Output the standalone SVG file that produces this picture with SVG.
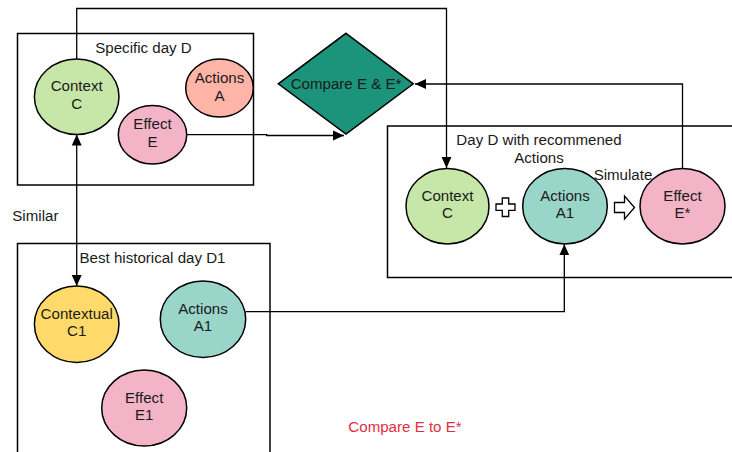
<svg xmlns="http://www.w3.org/2000/svg" width="732" height="452" viewBox="0 0 732 452">
<defs>
<style>
text{font-family:"Liberation Sans",Arial,sans-serif;font-size:15.1px;fill:#1a1a1a}
.c{text-anchor:middle}
.box{fill:none;stroke:#000;stroke-width:1.5}
.n{stroke:#000;stroke-width:1.5}
.ln{fill:none;stroke:#000;stroke-width:1.3}
.green{fill:#c6e7a8}.salmon{fill:#ffb4a8}.pink{fill:#f3b4c8}.teal{fill:#99d5c9}.yellow{fill:#ffda6a}
</style>
<marker id="ar" viewBox="0 0 10 10" refX="10" refY="5" markerWidth="11" markerHeight="11" markerUnits="userSpaceOnUse" orient="auto-start-reverse">
<path d="M0,0.5 L10,5 L0,9.5 Z" fill="#000"/>
</marker>
</defs>
<rect width="732" height="452" fill="#fff"/>

<g id="box-specific-day">
<rect class="box" x="17.5" y="33.5" width="236" height="151.5"/>
<text class="c" x="143.5" y="53">Specific day D</text>
</g>
<g id="box-day-d">
<rect class="box" x="387.5" y="126" width="360" height="151.5"/>
<text class="c" x="539" y="145">Day D with recommened</text>
<text class="c" x="539" y="162.5">Actions</text>
</g>
<g id="box-historical">
<rect class="box" x="17.5" y="243.5" width="252.5" height="220"/>
<text class="c" x="152.5" y="263">Best historical day D1</text>
</g>

<g id="connectors">
<path class="ln" d="M76.7,59 V8.5 H446.5 V168" marker-end="url(#ar)"/>
<path class="ln" d="M186.7,134.7 H266.7 V135.5 H344" marker-end="url(#ar)"/>
<path class="ln" d="M682.5,168.3 V84 H415" marker-end="url(#ar)"/>
<path class="ln" d="M76.7,134.5 V286" marker-start="url(#ar)" marker-end="url(#ar)"/>
<path class="ln" d="M245.7,311.7 H564.3 V244.2" marker-end="url(#ar)"/>
</g>

<g id="context-c">
<ellipse class="n green" cx="76.7" cy="96.7" rx="42.3" ry="37.7"/>
<text class="c" x="76.7" y="91">Context</text>
<text class="c" x="76.7" y="108.5">C</text>
</g>
<g id="actions-a">
<ellipse class="n salmon" cx="219.5" cy="88" rx="33.8" ry="29"/>
<text class="c" x="219.5" y="83">Actions</text>
<text class="c" x="219.5" y="101">A</text>
</g>
<g id="effect-e">
<ellipse class="n pink" cx="152.5" cy="134.7" rx="34.2" ry="29.3"/>
<text class="c" x="152.5" y="129">Effect</text>
<text class="c" x="152.5" y="147">E</text>
</g>
<g id="compare-diamond">
<polygon class="n" points="346,33.3 413.3,83.8 346,134 278.3,83.8" fill="#1b947b"/>
<text class="c" x="346" y="88.5">Compare E &amp; E*</text>
</g>

<g id="context-c-2">
<ellipse class="n green" cx="447.5" cy="206.2" rx="41.5" ry="37.8"/>
<text class="c" x="447.5" y="200.5">Context</text>
<text class="c" x="447.5" y="218">C</text>
</g>
<g id="plus">
<path d="M502.3,198 H508.7 V204 H515 V210.4 H508.7 V216.5 H502.3 V210.4 H496 V204 H502.3 Z" fill="#fff" stroke="#000" stroke-width="1.3"/>
</g>
<g id="actions-a1-2">
<ellipse class="n teal" cx="565" cy="206.2" rx="42.3" ry="37.8"/>
<text class="c" x="565" y="200.5">Actions</text>
<text class="c" x="565" y="218">A1</text>
</g>
<g id="simulate-arrow">
<path d="M614.5,202.5 H624.5 V196 L634.5,207.5 L624.5,219 V212.5 H614.5 Z" fill="#fff" stroke="#000" stroke-width="1.3"/>
<text class="c" x="623" y="179.5">Simulate</text>
</g>
<g id="effect-e-star">
<ellipse class="n pink" cx="682.5" cy="206.2" rx="42.5" ry="37.8"/>
<text class="c" x="682.5" y="200.5">Effect</text>
<text class="c" x="682.5" y="218">E*</text>
</g>

<g id="similar-label">
<text x="12.3" y="221">Similar</text>
</g>

<g id="contextual-c1">
<ellipse class="n yellow" cx="76.7" cy="324.2" rx="42.3" ry="38.2"/>
<text class="c" x="76.7" y="318.5">Contextual</text>
<text class="c" x="76.7" y="336">C1</text>
</g>
<g id="actions-a1">
<ellipse class="n teal" cx="203" cy="319.2" rx="42.7" ry="38.2"/>
<text class="c" x="203" y="313.5">Actions</text>
<text class="c" x="203" y="331">A1</text>
</g>
<g id="effect-e1">
<ellipse class="n pink" cx="144.2" cy="408" rx="42.5" ry="38"/>
<text class="c" x="144.2" y="402.5">Effect</text>
<text class="c" x="144.2" y="420">E1</text>
</g>

<g id="compare-note">
<text class="c" x="405" y="431.5" style="fill:#e0303f">Compare E to E*</text>
</g>
</svg>
